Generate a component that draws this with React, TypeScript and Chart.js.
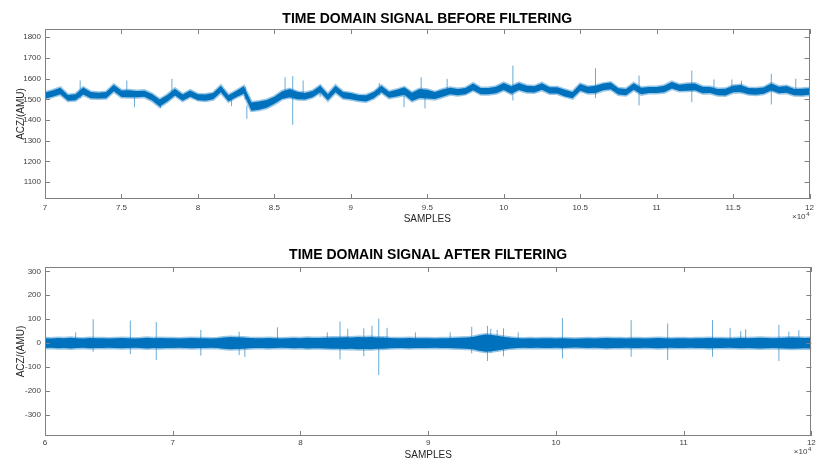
import React, { useEffect, useRef } from 'react';
import { Chart, registerables } from 'chart.js';

Chart.register(...registerables);

const BLUE = '#0072BD';
const FRINGE = 'rgba(0,114,189,0.4)';
const SPIKE = 'rgba(0,114,189,0.6)';
const FONT = '"Liberation Sans", Arial, Helvetica, sans-serif';

// ---------- TOP: before filtering (x from 70000 in steps of 500 samples) ----------
const topStart = 70000;
const topStep = 500;
const topXTicks = [70000, 75000, 80000, 85000, 90000, 95000, 100000, 105000, 110000, 115000, 120000];
const topYTicks = [1100, 1200, 1300, 1400, 1500, 1600, 1700, 1800];
const topCenter = [
  1518, 1528, 1540, 1507, 1510, 1540, 1520, 1518, 1520, 1555,
  1527, 1527, 1525, 1527, 1510, 1482, 1505, 1535, 1508, 1528,
  1510, 1508, 1515, 1550, 1505, 1525, 1545, 1465, 1470, 1478,
  1495, 1520, 1530, 1518, 1515, 1525, 1550, 1510, 1550, 1520,
  1515, 1507, 1505, 1520, 1550, 1522, 1530, 1540, 1512, 1528,
  1525, 1518, 1530, 1540, 1535, 1540, 1560, 1540, 1540, 1545,
  1562, 1545, 1562, 1550, 1548, 1562, 1543, 1543, 1530, 1520,
  1558, 1545, 1548, 1560, 1565, 1538, 1535, 1562, 1540, 1545,
  1545, 1550, 1568, 1555, 1558, 1560, 1545, 1545, 1535, 1535,
  1550, 1552, 1540, 1538, 1542, 1560, 1545, 1548, 1535, 1535,
  1538,
];
const topSpread = [
  15, 15, 16, 14, 15, 17, 15, 14, 15, 16,
  16, 17, 15, 15, 16, 17, 16, 16, 15, 15,
  14, 15, 15, 16, 15, 15, 18, 20, 20, 19,
  17, 18, 20, 18, 16, 15, 16, 15, 16, 15,
  15, 14, 15, 15, 16, 15, 16, 18, 20, 22,
  21, 17, 18, 16, 15, 15, 16, 15, 15, 16,
  17, 18, 17, 16, 15, 16, 15, 15, 16, 15,
  16, 16, 17, 16, 16, 15, 15, 16, 16, 15,
  15, 16, 16, 15, 17, 16, 16, 15, 15, 16,
  16, 17, 15, 16, 15, 17, 16, 16, 15, 16,
  16,
];
const topSpikeX = [
  72300, 75350, 75850, 77550, 78300, 82200, 83100, 83200, 85700, 86200,
  86880, 87990, 91860, 93480, 94600, 94850, 96300, 100600, 106000, 108850,
  112300, 113750, 114920, 115550, 117500, 119100,
];
const topSpikeLo = [
  1505, 1515, 1462, 1457, 1520, 1467, 1500, 1406, 1505, 1377,
  1510, 1510, 1520, 1462, 1510, 1456, 1520, 1494, 1506, 1470,
  1486, 1525, 1530, 1530, 1475, 1520,
];
const topSpikeHi = [
  1591, 1591, 1525, 1500, 1599, 1510, 1560, 1470, 1607, 1612,
  1591, 1568, 1580, 1525, 1607, 1520, 1599, 1663, 1650, 1615,
  1639, 1596, 1596, 1590, 1623, 1600,
];

// ---------- BOTTOM: after filtering (x from 60000 in steps of 500 samples) ----------
const botStart = 60000;
const botStep = 500;
const botXTicks = [60000, 70000, 80000, 90000, 100000, 110000, 120000];
const botYTicks = [-300, -200, -100, 0, 100, 200, 300];
const botSpread = [
  20, 19, 21, 20, 22, 20, 19, 21, 20, 20,
  19, 20, 21, 20, 19, 20, 22, 20, 21, 20,
  20, 19, 20, 21, 20, 20, 19, 20, 24, 26,
  25, 24, 21, 20, 20, 21, 20, 19, 20, 21,
  20, 22, 21, 21, 22, 23, 24, 25, 24, 26,
  25, 26, 24, 23, 21, 20, 20, 21, 20, 20,
  20, 19, 20, 20, 21, 22, 23, 26, 32, 36,
  34, 30, 26, 22, 20, 19, 20, 19, 20, 20,
  19, 20, 19, 18, 19, 20, 19, 20, 21, 20,
  20, 19, 20, 20, 19, 20, 21, 20, 19, 20,
  20, 19, 20, 20, 21, 20, 20, 19, 20, 21,
  20, 21, 22, 21, 20, 21, 22, 23, 22, 21,
  22,
];
const botSpikeX = [
  62400, 63770, 66680, 68710, 72200, 75200, 75650, 78200, 82100, 83100,
  83700, 84960, 85600, 86130, 86780, 89000, 91720, 93410, 94640, 94900,
  95400, 95900, 97050, 100510, 105890, 108750, 112260, 113640, 114470, 114860,
  117460, 118240, 119020,
];
const botSpikeLo = [
  -10, -36, -46, -71, -52, -50, -58, -10, -10, -68,
  -10, -55, -10, -133, -10, -10, -10, -43, -75, -40,
  -30, -55, -10, -64, -57, -71, -57, -10, -10, -10,
  -75, -10, -10,
];
const botSpikeHi = [
  45, 100, 94, 88, 55, 48, 10, 66, 45, 90,
  60, 62, 72, 102, 64, 45, 45, 68, 72, 60,
  55, 62, 45, 105, 96, 82, 96, 64, 50, 58,
  76, 48, 54,
];

const matlabBox = {
  id: 'matlabBox',
  afterDatasetsDraw(chart: any, _args: any, opts: any) {
    const { ctx, chartArea } = chart;
    const { left, right, top, bottom } = chartArea;
    const xs = chart.scales.x;
    const ys = chart.scales.y;
    ctx.save();
    ctx.strokeStyle = '#808080';
    ctx.lineWidth = 1;
    ctx.strokeRect(Math.round(left) + 0.5, Math.round(top) + 0.5, Math.round(right - left) - 1, Math.round(bottom - top) - 1);
    ctx.beginPath();
    xs.ticks.forEach((t: any) => {
      const px = Math.round(xs.getPixelForValue(t.value)) + 0.5;
      ctx.moveTo(px, bottom); ctx.lineTo(px, bottom - 5);
      ctx.moveTo(px, top); ctx.lineTo(px, top + 5);
    });
    ys.ticks.forEach((t: any) => {
      const py = Math.round(ys.getPixelForValue(t.value)) + 0.5;
      ctx.moveTo(left, py); ctx.lineTo(left + 5, py);
      ctx.moveTo(right, py); ctx.lineTo(right - 5, py);
    });
    ctx.stroke();
    ctx.fillStyle = '#404040';
    ctx.textBaseline = 'middle';
    ctx.textAlign = 'right';
    ctx.font = '6px ' + FONT;
    const ey = bottom + (opts.expOffset || 18);
    ctx.fillText('4', right, ey - 3);
    ctx.font = '8px ' + FONT;
    ctx.fillText('\u00d710', right - 4, ey);
    ctx.restore();
  },
};

function buildConfig(p: any) {
  const upper = p.center.map((c: number, i: number) => ({ x: p.start + i * p.step, y: c + p.spread[i] }));
  const lower = p.center.map((c: number, i: number) => ({ x: p.start + i * p.step, y: c - p.spread[i] }));
  const spikes: any[] = [];
  p.spikeX.forEach((x: number, i: number) => {
    spikes.push({ x, y: p.spikeLo[i] });
    spikes.push({ x, y: p.spikeHi[i] });
    spikes.push({ x, y: NaN });
  });
  return {
    type: 'line',
    data: {
      datasets: [
        { data: upper, borderColor: FRINGE, borderWidth: 3, pointRadius: 0, fill: false, tension: 0 },
        { data: lower, borderColor: FRINGE, borderWidth: 3, pointRadius: 0, fill: '-1', backgroundColor: BLUE, tension: 0 },
        { data: spikes, borderColor: SPIKE, borderWidth: 1, pointRadius: 0, fill: false, spanGaps: false },
      ],
    },
    options: {
      responsive: false,
      maintainAspectRatio: false,
      animation: false,
      events: [],
      layout: { padding: { left: 0, right: p.padRight, top: 0, bottom: 0 } },
      plugins: {
        legend: { display: false },
        tooltip: { enabled: false },
        title: {
          display: true,
          text: p.title,
          fullSize: false,
          color: '#000',
          font: { family: FONT, size: 14, weight: 'bold', lineHeight: 1.2 },
          padding: { top: p.titlePadTop, bottom: p.titlePadBottom },
        },
        matlabBox: { expOffset: p.expOffset },
      },
      scales: {
        x: {
          type: 'linear',
          min: p.xMin,
          max: p.xMax,
          afterFit: (s: any) => { s.height = p.xAxisHeight; },
          afterBuildTicks: (s: any) => { s.ticks = p.xTicks.map((v: number) => ({ value: v })); },
          grid: { display: false, drawTicks: false },
          border: { display: false },
          ticks: {
            autoSkip: false,
            maxRotation: 0,
            padding: p.xTickPad,
            color: '#404040',
            font: { family: FONT, size: 8 },
            callback: (v: number) => String(v / 10000),
          },
          title: {
            display: true,
            text: 'SAMPLES',
            color: '#262626',
            font: { family: FONT, size: 10 },
            padding: { top: 0, bottom: p.xTitlePadBottom },
          },
        },
        y: {
          type: 'linear',
          min: p.yMin,
          max: p.yMax,
          afterFit: (s: any) => { s.width = 45; },
          afterBuildTicks: (s: any) => { s.ticks = p.yTicks.map((v: number) => ({ value: v })); },
          grid: { display: false, drawTicks: false },
          border: { display: false },
          ticks: {
            autoSkip: false,
            padding: 4,
            color: '#404040',
            font: { family: FONT, size: 8 },
            callback: (v: number) => String(v),
          },
          title: {
            display: true,
            text: 'ACZ/(AMU)',
            color: '#262626',
            font: { family: FONT, size: 10 },
            padding: { top: 15, bottom: 0 },
          },
        },
      },
    },
    plugins: [matlabBox],
  };
}

function Plot(props: { cfg: any; top: number; height: number }) {
  const ref = useRef<HTMLCanvasElement | null>(null);
  useEffect(() => {
    if (!ref.current) return;
    const chart = new Chart(ref.current, buildConfig(props.cfg) as any);
    return () => chart.destroy();
  }, []);
  return (
    <canvas
      ref={ref}
      width={818}
      height={props.height}
      style={{ position: 'absolute', left: 0, top: props.top, width: 818, height: props.height, display: 'block' }}
    />
  );
}

const topCfg = {
  title: 'TIME DOMAIN SIGNAL BEFORE FILTERING',
  center: topCenter,
  spread: topSpread,
  start: topStart,
  step: topStep,
  spikeX: topSpikeX,
  spikeLo: topSpikeLo,
  spikeHi: topSpikeHi,
  xTicks: topXTicks,
  yTicks: topYTicks,
  xMin: 70000,
  xMax: 120000,
  yMin: 1018,
  yMax: 1840,
  padRight: 3,
  titlePadTop: 10.8,
  titlePadBottom: 1.4,
  xAxisHeight: 31,
  xTickPad: 4,
  xTitlePadBottom: 5,
  expOffset: 18,
};

const botCfg = {
  title: 'TIME DOMAIN SIGNAL AFTER FILTERING',
  center: botSpread.map(() => 0),
  spread: botSpread,
  start: botStart,
  step: botStep,
  spikeX: botSpikeX,
  spikeLo: botSpikeLo,
  spikeHi: botSpikeHi,
  xTicks: botXTicks,
  yTicks: botYTicks,
  xMin: 60000,
  xMax: 120000,
  yMin: -388,
  yMax: 318,
  padRight: 4,
  titlePadTop: 17.1,
  titlePadBottom: 3.1,
  xAxisHeight: 25,
  xTickPad: 2.2,
  xTitlePadBottom: 0,
  expOffset: 16,
};

export default function App() {
  return (
    <div style={{ position: 'fixed', left: 0, top: 0, width: 818, height: 459, background: '#fff', overflow: 'hidden' }}>
      <Plot cfg={topCfg} top={0} height={230} />
      <Plot cfg={botCfg} top={230} height={231} />
    </div>
  );
}
